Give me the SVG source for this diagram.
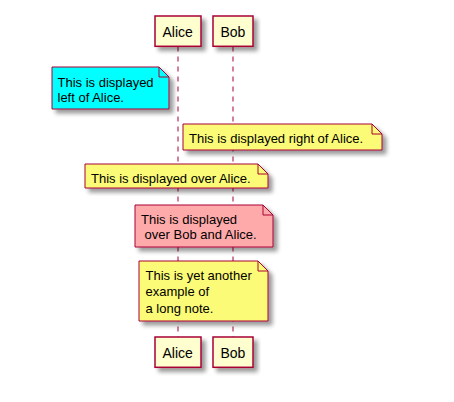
<svg xmlns="http://www.w3.org/2000/svg" width="454" height="402" viewBox="0 0 454 402">
<style>
.part{fill:#FEFECE;stroke:#A80036;stroke-width:1.5;filter:url(#sh)}
.ptxt{font-family:"Liberation Sans",Arial,sans-serif;font-size:14px;fill:#000}
.note{stroke:#A80036;stroke-width:1;filter:url(#sh)}
.fold{fill:none;stroke:#A80036;stroke-width:1}
.ntxt{font-family:"Liberation Sans",Arial,sans-serif;font-size:13px;fill:#000;white-space:pre}
.life{stroke:#A80036;stroke-width:1;stroke-dasharray:5,5}
</style>
<defs>
<filter id="sh" x="-10%" y="-10%" width="130%" height="140%">
<feGaussianBlur in="SourceAlpha" stdDeviation="2" result="b"/>
<feOffset in="b" dx="4" dy="4" result="o"/>
<feComponentTransfer in="o" result="c"><feFuncA type="linear" slope="0.4"/></feComponentTransfer>
<feMerge><feMergeNode in="c"/><feMergeNode in="SourceGraphic"/></feMerge>
</filter>
</defs>
<rect width="454" height="402" fill="#fff"/>
<g id="connectors">
<line class="life" x1="178" y1="46.5" x2="178" y2="337"/>
<line class="life" x1="233" y1="46.5" x2="233" y2="337"/>
</g>
<g id="alice-top">
<rect class="part" x="155" y="16" width="46" height="30.3"/>
<text class="ptxt" x="162.5" y="36.5">Alice</text>
</g>
<g id="bob-top">
<rect class="part" x="213" y="16" width="40" height="30.3"/>
<text class="ptxt" x="220.5" y="36.5">Bob</text>
</g>
<g id="alice-bottom">
<rect class="part" x="155" y="337" width="46" height="30.3"/>
<text class="ptxt" x="162.5" y="357.5">Alice</text>
</g>
<g id="bob-bottom">
<rect class="part" x="213" y="337" width="40" height="30.3"/>
<text class="ptxt" x="220.5" y="357.5">Bob</text>
</g>
<g id="note-left">
<path class="note" fill="#00FFFF" d="M52,67 L52,109 L169,109 L169,77 L159,67 Z"/>
<path class="fold" d="M159,67 L159,77 L169,77"/>
<text class="ntxt" x="57.5" y="86.5">This is displayed</text>
<text class="ntxt" x="57.5" y="101.5">left of Alice.</text>
</g>
<g id="note-right">
<path class="note" fill="#FBFB77" d="M183,124 L183,150 L382,150 L382,134 L372,124 Z"/>
<path class="fold" d="M372,124 L372,134 L382,134"/>
<text class="ntxt" x="189" y="142.5">This is displayed right of Alice.</text>
</g>
<g id="note-over-alice">
<path class="note" fill="#FBFB77" d="M85,164 L85,188 L268,188 L268,174 L258,164 Z"/>
<path class="fold" d="M258,164 L258,174 L268,174"/>
<text class="ntxt" x="91" y="183">This is displayed over Alice.</text>
</g>
<g id="note-over-both">
<path class="note" fill="#FFAAAA" d="M135,205 L135,247 L273,247 L273,215 L263,205 Z"/>
<path class="fold" d="M263,205 L263,215 L273,215"/>
<text class="ntxt" x="141" y="223.5">This is displayed</text>
<text class="ntxt" x="141" y="238.5"> over Bob and Alice.</text>
</g>
<g id="note-long">
<path class="note" fill="#FBFB77" d="M139,261 L139,321 L268,321 L268,271 L258,261 Z"/>
<path class="fold" d="M258,261 L258,271 L268,271"/>
<text class="ntxt" x="145.5" y="279.5">This is yet another</text>
<text class="ntxt" x="145.5" y="296">example of</text>
<text class="ntxt" x="145.5" y="312.5">a long note.</text>
</g>
</svg>
